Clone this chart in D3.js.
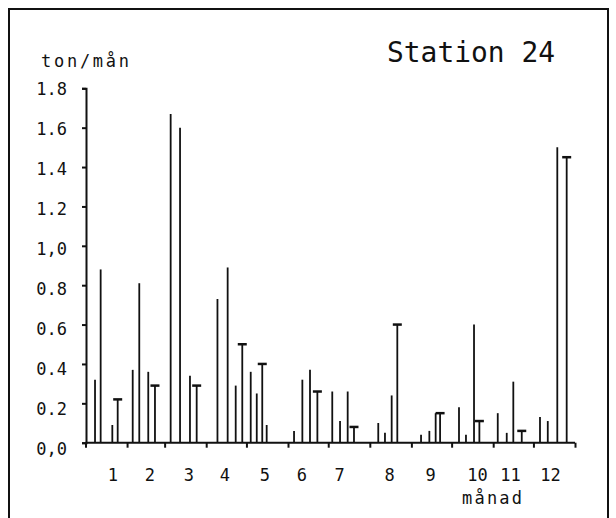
<!DOCTYPE html>
<html>
<head>
<meta charset="utf-8">
<script src="https://cdn.jsdelivr.net/npm/d3@7"></script>
<style>
  html, body { margin: 0; padding: 0; background: #fff; }
  svg { display: block; }
  text { font-family: "DejaVu Sans Mono", "Liberation Mono", monospace; fill: #111; }
</style>
</head>
<body>
<svg id="chart" width="616" height="518"></svg>
<script>
// ---- data (day of year, ton/month, capped marker) ----
const spikeDays = [7.1, 11.3, 20.0, 24.0, 35.2, 40.1, 46.8, 51.8, 63.5, 70.5, 77.9, 82.9,
  98.4, 106.0, 112.0, 116.9, 123.2, 127.7, 131.8, 135.1,
  155.5, 161.7, 167.4, 172.9, 184.0, 189.8, 195.5, 200.2,
  218.3, 223.3, 228.3, 232.5, 250.2, 256.4, 261.1, 264.4,
  278.5, 283.7, 289.7, 293.7, 307.4, 314.1, 319.0, 325.3,
  338.9, 344.7, 351.8, 358.8];
const spikeValues = [0.32, 0.88, 0.09, 0.22, 0.37, 0.81, 0.36, 0.29, 1.67, 1.60, 0.34, 0.29,
  0.73, 0.89, 0.29, 0.50, 0.36, 0.25, 0.40, 0.09,
  0.06, 0.32, 0.37, 0.26, 0.26, 0.11, 0.26, 0.08,
  0.10, 0.05, 0.24, 0.60, 0.04, 0.06, 0.15, 0.15,
  0.18, 0.04, 0.60, 0.11, 0.15, 0.05, 0.31, 0.06,
  0.13, 0.11, 1.50, 1.45];
const spikeCapped = [0, 0, 0, 1, 0, 0, 0, 1, 0, 0, 0, 1,
  0, 0, 0, 1, 0, 0, 1, 0,
  0, 0, 0, 1, 0, 0, 0, 1,
  0, 0, 0, 1, 0, 0, 0, 1,
  0, 0, 0, 1, 0, 0, 0, 1,
  0, 0, 0, 1];

const monthBoundaries = [0, 31, 59, 90, 120, 151, 181, 212, 243, 273, 304, 334, 365];
const monthLabels = ["1", "2", "3", "4", "5", "6", "7", "8", "9", "10", "11", "12"];
const monthLabelDays = [20.1, 47.7, 76.7, 103.5, 133.3, 160.9, 189.2, 226.4, 257.0, 292.0, 316.6, 346.4];

const yTicks = [0, 0.2, 0.4, 0.6, 0.8, 1.0, 1.2, 1.4, 1.6, 1.8];
const yTickLabels = ["0,0", "0.2", "0.4", "0.6", "0.8", "1,0", "1.2", "1.4", "1.6", "1.8"];

const title = "Station 24";
const yTitle = "ton/mån";
const xTitle = "månad";

// ---- drawing ----
const svg = d3.select("#chart");
const x = d3.scaleLinear().domain([0, 365]).range([85.5, 575]);
const y = d3.scaleLinear().domain([0, 1.8]).range([442.7, 88.3]);
const ink = "#111";

// frame
svg.append("rect")
  .attr("x", 9).attr("y", 9).attr("width", 599).attr("height", 520)
  .attr("fill", "none").attr("stroke", ink).attr("stroke-width", 2);

// spikes
const data = spikeDays.map((d, i) => ({ day: d, v: spikeValues[i], cap: spikeCapped[i] }));
const g = svg.append("g");
g.selectAll("line.spike").data(data).join("line")
  .attr("class", "spike")
  .attr("x1", d => x(d.day)).attr("x2", d => x(d.day))
  .attr("y1", y(0)).attr("y2", d => y(d.v))
  .attr("stroke", ink).attr("stroke-width", 1.8);
g.selectAll("line.cap").data(data.filter(d => d.cap)).join("line")
  .attr("class", "cap")
  .attr("x1", d => x(d.day) - 4.5).attr("x2", d => x(d.day) + 4.5)
  .attr("y1", d => y(d.v)).attr("y2", d => y(d.v))
  .attr("stroke", ink).attr("stroke-width", 2.5);

// y axis
const yAxis = d3.axisLeft(y).tickValues(yTicks)
  .tickFormat((d, i) => yTickLabels[i]).tickSize(4).tickPadding(15);
const yg = svg.append("g").attr("transform", "translate(86,0)").call(yAxis);
yg.select(".domain").attr("stroke", ink).attr("stroke-width", 2);
yg.selectAll(".tick line").attr("stroke", ink).attr("stroke-width", 2);
yg.selectAll(".tick text").attr("font-size", 17)
  .attr("font-family", "DejaVu Sans Mono").attr("fill", ink)
  .attr("dy", d => (0.35 * 17 + 6 * (1 - d / 1.8)).toFixed(1));

// x axis with month boundary ticks
const xAxis = d3.axisBottom(x).tickValues(monthBoundaries).tickSize(5).tickFormat("");
const xg = svg.append("g").attr("transform", `translate(0,${y(0)})`).call(xAxis);
xg.select(".domain").attr("stroke", ink).attr("stroke-width", 2).attr("d", `M${x(0)},0H${x(365)}`);
xg.selectAll(".tick line").attr("stroke", ink).attr("stroke-width", 2);

// month labels
const xLab = d3.axisBottom(x).tickValues(monthLabelDays)
  .tickFormat((d, i) => monthLabels[i]).tickSize(0).tickPadding(26);
const xl = svg.append("g").attr("transform", `translate(0,${y(0)})`).call(xLab);
xl.select(".domain").remove();
xl.selectAll(".tick text").attr("font-size", 17)
  .attr("font-family", "DejaVu Sans Mono").attr("fill", ink);

// titles
svg.append("text").attr("x", 387).attr("y", 62)
  .attr("font-size", 29).attr("textLength", 168).attr("lengthAdjust", "spacingAndGlyphs")
  .text(title);
svg.append("text").attr("x", 41).attr("y", 67)
  .attr("font-size", 17).attr("textLength", 88).attr("lengthAdjust", "spacing")
  .text(yTitle);
svg.append("text").attr("x", 462).attr("y", 504)
  .attr("font-size", 17).attr("textLength", 60).attr("lengthAdjust", "spacing")
  .text(xTitle);
</script>
</body>
</html>
